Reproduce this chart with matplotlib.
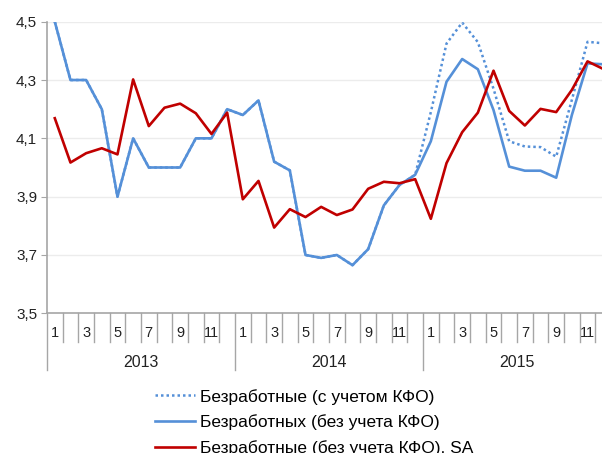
import matplotlib.pyplot as plt
from matplotlib.ticker import FuncFormatter

plt.rcParams['font.family'] = ['Liberation Sans', 'DejaVu Sans']

years = ['2013', '2014', '2015']
months = list(range(1, 13))

# unemployment, mln people
unemp_kfo = [4.5, 4.3, 4.3, 4.2, 3.9, 4.1, 4.0, 4.0, 4.0, 4.1, 4.1, 4.2,
             4.18, 4.23, 4.02, 3.99, 3.70, 3.69, 3.70, 3.665, 3.72, 3.87, 3.94, 3.975,
             4.19, 4.425, 4.497, 4.43, 4.27, 4.09, 4.072, 4.07, 4.037, 4.232, 4.431, 4.426]
unemp = [4.5, 4.3, 4.3, 4.2, 3.9, 4.1, 4.0, 4.0, 4.0, 4.1, 4.1, 4.2,
         4.18, 4.23, 4.02, 3.99, 3.70, 3.69, 3.70, 3.665, 3.72, 3.87, 3.94, 3.975,
         4.09, 4.294, 4.372, 4.337, 4.197, 4.003, 3.989, 3.989, 3.965, 4.18, 4.357, 4.354]
unemp_sa = [4.169, 4.017, 4.049, 4.066, 4.045, 4.302, 4.142, 4.205, 4.219, 4.186, 4.115, 4.188,
            3.891, 3.954, 3.794, 3.857, 3.830, 3.865, 3.837, 3.856, 3.927, 3.951, 3.946, 3.960,
            3.824, 4.015, 4.121, 4.188, 4.332, 4.194, 4.144, 4.201, 4.190, 4.266, 4.364, 4.338]

labels = ['Безработные (с учетом КФО)',
          'Безработных (без учета КФО)',
          'Безработные (без учета КФО), SA']

blue = '#5590d8'
red = '#c00000'
axis_grey = '#a6a6a6'

fig = plt.figure(figsize=(6.02, 4.53), dpi=100)
ax = fig.add_axes([0.078, 0.3084, 0.937, 0.6437])

x = list(range(len(unemp)))
l1, = ax.plot(x, unemp_kfo, color=blue, lw=1.8, linestyle=(0, (1, 1.2)), zorder=2)
l2, = ax.plot(x, unemp, color=blue, lw=1.9, zorder=3)
l3, = ax.plot(x, unemp_sa, color=red, lw=1.9, zorder=4)

ax.set_xlim(-0.5, len(x) - 0.5)
ax.set_ylim(3.5, 4.5)
ax.set_yticks([3.5, 3.7, 3.9, 4.1, 4.3, 4.5])
ax.yaxis.set_major_formatter(FuncFormatter(lambda v, p: f'{v:.1f}'.replace('.', ',')))
ax.tick_params(axis='y', length=4, color=axis_grey, labelsize=11, pad=3, labelcolor='#222222')
ax.grid(axis='y', color='#ececec', lw=1)
ax.set_axisbelow(True)

for s in ['top', 'right']:
    ax.spines[s].set_visible(False)
for s in ['left', 'bottom']:
    ax.spines[s].set_color(axis_grey)
    ax.spines[s].set_linewidth(1.2)

# two-level category axis: months, then years
ax.set_xticks([])
tr = ax.get_xaxis_transform()
n = len(months)
for b in range(len(x) + 1):
    bottom = -0.194 if b % n == 0 else -0.098
    ax.plot([b - 0.5, b - 0.5], [0, bottom], transform=tr, color=axis_grey,
            lw=1, clip_on=False)
for i in x:
    m = months[i % n]
    if m % 2 == 1:
        ax.text(i, -0.068, str(m), transform=tr, ha='center', va='center',
                fontsize=10.5, color='#222222')
for k, yr in enumerate(years):
    ax.text(k * n + (n - 1) / 2, -0.17, yr, transform=tr, ha='center',
            va='center', fontsize=11.5, color='#222222')

fig.legend([l1, l2, l3], labels, loc='upper left', bbox_to_anchor=(0.2575, 0.142),
           frameon=False, fontsize=12.5, handlelength=2.3, handletextpad=0.3,
           labelspacing=0.58, borderpad=0, borderaxespad=0)

fig.savefig('out.png', dpi=100)
